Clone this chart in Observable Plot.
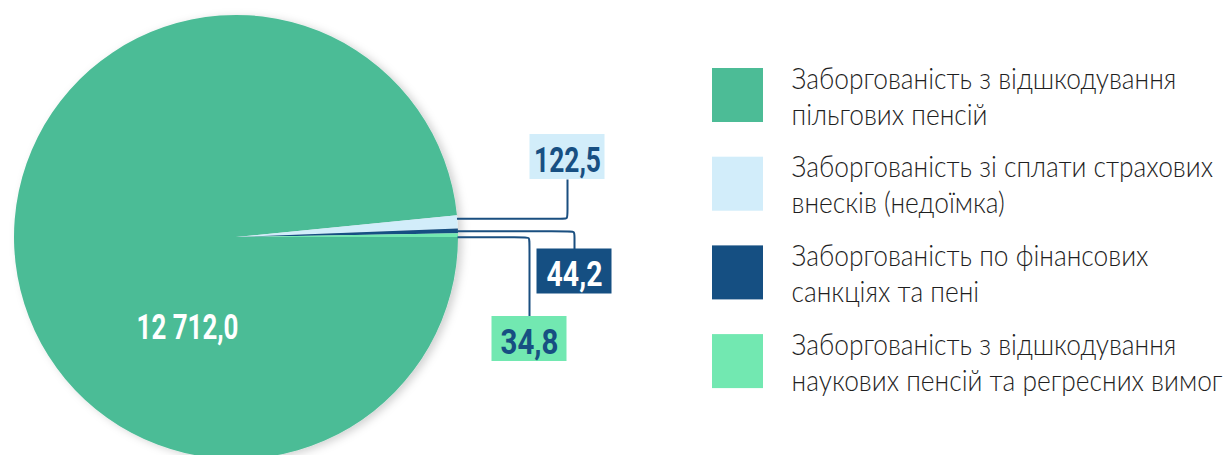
<!DOCTYPE html>
<html><head><meta charset="utf-8">
<script src="https://cdn.jsdelivr.net/npm/d3@7"></script>
<script src="https://cdn.jsdelivr.net/npm/@observablehq/plot@0.6"></script>
<style>body{margin:0;background:#fff} svg{display:block}</style>
</head><body><div id="chart"></div>
<script>
// ---- data ----
const categories = [
  "Заборгованість з відшкодування\nпільгових пенсій",
  "Заборгованість зі сплати страхових\nвнесків (недоїмка)",
  "Заборгованість по фінансових\nсанкціях та пені",
  "Заборгованість з відшкодування\nнаукових пенсій та регресних вимог"
];
const values = [12712.0, 122.5, 44.2, 34.8];
const valueLabels = ["12 712,0", "122,5", "44,2", "34,8"];
const colors = ["#4cbc96", "#d2edfa", "#154f82", "#72e8b1"];
const labelColors = ["#ffffff", "#174f82", "#ffffff", "#174f82"];

// ---- layout ----
const W = 1232, H = 455;
const cx = 236, cy = 237, R = 222;
const labelBoxes = [null, {x: 567, y: 156.5}, {x: 574, y: 271}, {x: 529, y: 338.5}];
const labelWidths = [102, 67, 56, 58];
const boxW = 75, boxH = 45;
const bigLabel = {x: 187, y: 338};
const leaderSpread = 1.4, leaderR = 5;
const legendX = 712, legendTop = 68, legendStep = 88.7, swW = 51, swH = 54, legendTextX = 791;
const legendFirstWidth = 385; // width of the reference's first legend line
const BOLD = "Roboto,'DejaVu Sans Condensed',sans-serif";
const LEG = "Lato,Roboto,'Noto Sans',sans-serif";

const rows = categories.map((c, i) => ({category: c, value: values[i], label: valueLabels[i], color: colors[i], labelColor: labelColors[i], i}));
const arcs = d3.pie().sort(null).value(d => d.value)
  .startAngle(Math.PI / 2).endAngle(Math.PI / 2 + 2 * Math.PI)(rows);

// leader lines (from slice mid-angles on the rim, spread a little apart)
const mids = arcs.map(a => (a.startAngle + a.endAngle) / 2);
const rimY = mids.map(m => cy - R * Math.cos(m));
const rimX = mids.map(m => cx + R * Math.sin(m));
const leaders = [];
arcs.forEach((a, i) => {
  if (!labelBoxes[i]) return;
  const sy = rimY[2] + (rimY[i] - rimY[2]) * leaderSpread;
  const sx = rimX[i] - 1;
  const b = labelBoxes[i];
  const dir = b.y < sy ? -1 : 1;
  const ey = b.y - dir * boxH / 2;
  leaders.push(
    {k: i, x: sx, y: sy}, {k: i, x: b.x - leaderR, y: sy}, {k: i, x: b.x, y: sy},
    {k: i, x: b.x, y: sy + dir * leaderR}, {k: i, x: b.x, y: ey});
});
const boxes = rows.filter((d, i) => labelBoxes[i]).map(d => ({...d, bx: labelBoxes[d.i].x, by: labelBoxes[d.i].y}));
const legend = rows.map(d => ({...d, top: legendTop + d.i * legendStep}));
const legendLines = legend.flatMap(d => d.category.split("\n").map((t, j) => ({...d, t, j})));

function pieMark(index, scales) {
  const X = scales && scales.x ? scales.x : (v => v);
  const Y = scales && scales.y ? scales.y : (v => v);
  const g = d3.create("svg:g");
  const f = g.append("defs").append("filter").attr("id", "sh").attr("x", "-20%").attr("y", "-20%").attr("width", "140%").attr("height", "140%");
  f.append("feDropShadow").attr("dx", 4).attr("dy", 2).attr("stdDeviation", 4).attr("flood-color", "#000").attr("flood-opacity", 0.18);
  const arc = d3.arc().innerRadius(0).outerRadius(R);
  const gg = g.append("g").attr("transform", `translate(${X(cx)},${Y(cy)})`).attr("filter", "url(#sh)");
  gg.selectAll("path").data(arcs).join("path").attr("d", arc).attr("fill", d => d.data.color);
  return g.node();
}

const chart = Plot.plot({
  width: W, height: H, margin: 0,
  x: {domain: [0, W], range: [0, W], axis: null},
  y: {domain: [0, H], range: [0, H], axis: null},
  marks: [
    pieMark,
    Plot.text([rows[0]], {x: () => bigLabel.x, y: () => bigLabel.y, text: "label", fill: "labelColor", fontSize: 35, fontWeight: "bold", fontFamily: BOLD, lineAnchor: "bottom", textAnchor: "middle"}),
    Plot.line(leaders, {x: "x", y: "y", z: "k", stroke: "#1a4f80", strokeWidth: 2, curve: "basis", strokeLinecap: "butt"}),
    Plot.rect(boxes, {x1: d => d.bx - boxW / 2, x2: d => d.bx + boxW / 2, y1: d => d.by - boxH / 2, y2: d => d.by + boxH / 2, fill: "color"}),
    Plot.text(boxes, {x: "bx", y: d => d.by + 14.5, text: "label", fill: "labelColor", fontSize: 36, fontWeight: "bold", fontFamily: BOLD, lineAnchor: "bottom", textAnchor: "middle"}),
    Plot.rect(legend, {x1: () => legendX, x2: () => legendX + swW, y1: "top", y2: d => d.top + swH, fill: "color"}),
    Plot.text(legendLines, {x: () => legendTextX, y: d => d.top + 20 + d.j * 36, text: "t", fill: "#1f1f1f", fontSize: 30, fontWeight: 300, fontFamily: LEG, lineAnchor: "bottom", textAnchor: "start"})
  ]
});
document.getElementById("chart").append(chart);

// condense text horizontally (the reference uses a condensed typeface)
function squeeze(el, s) {
  const x = +el.getAttribute("x") || 0, y = +el.getAttribute("y") || 0;
  const t = el.getAttribute("transform") || "";
  el.setAttribute("transform", `${t} translate(${x},${y}) scale(${s},1) translate(${-x},${-y})`);
}
const allText = d3.select(chart).selectAll("text").nodes();
const firstLegend = allText.find(el => el.textContent === legendLines[0].t);
const legendScale = firstLegend ? legendFirstWidth / firstLegend.getComputedTextLength() : 0.85;
const legendTexts = legendLines.map(d => d.t);
allText.forEach(el => {
  const s = el.textContent;
  const k = valueLabels.indexOf(s);
  if (k >= 0) squeeze(el, labelWidths[k] / el.getComputedTextLength());
  else if (legendTexts.includes(s)) squeeze(el, legendScale);
});
</script>
</body></html>
